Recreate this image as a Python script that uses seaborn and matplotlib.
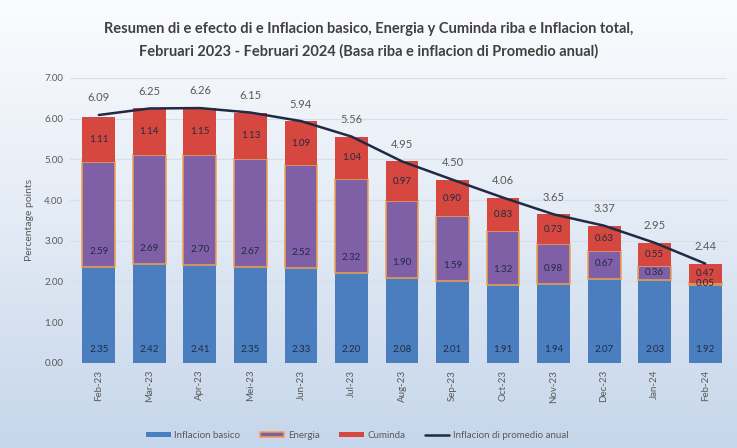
import numpy as np
import pandas as pd
import matplotlib.pyplot as plt
import seaborn as sns
from matplotlib.patches import Patch
from matplotlib.lines import Line2D
from matplotlib.colors import LinearSegmentedColormap

months = ["Feb-23", "Mar-23", "Apr-23", "Mei-23", "Jun-23", "Jul-23", "Aug-23",
          "Sep-23", "Oct-23", "Nov-23", "Dec-23", "Jan-24", "Feb-24"]
basico = [2.35, 2.42, 2.41, 2.35, 2.33, 2.20, 2.08, 2.01, 1.91, 1.94, 2.07, 2.03, 1.92]
energia = [2.59, 2.69, 2.70, 2.67, 2.52, 2.32, 1.90, 1.59, 1.32, 0.98, 0.67, 0.36, 0.05]
cuminda = [1.11, 1.14, 1.15, 1.13, 1.09, 1.04, 0.97, 0.90, 0.83, 0.73, 0.63, 0.55, 0.47]
total = [6.09, 6.25, 6.26, 6.15, 5.94, 5.56, 4.95, 4.50, 4.06, 3.65, 3.37, 2.95, 2.44]

sns.set_style("white")
plt.rcParams["font.family"] = ["Lato", "DejaVu Sans"]

c_bas = "#4a7ebf"
c_ene = "#7f5fa6"
c_ene_edge = "#f2a14a"
c_cum = "#d6483f"
c_line = "#1f2b45"
c_txt = "#1f2b45"
c_gray = "#595959"

df = pd.DataFrame({"month": months, "basico": basico, "energia": energia,
                   "cuminda": cuminda, "total": total})
bottom_ene = df["basico"].values
bottom_cum = (df["basico"] + df["energia"]).values

fig = plt.figure(figsize=(7.37, 4.48), dpi=100)

# background gradient (white at top to light blue at the bottom)
bg = fig.add_axes([0, 0, 1, 1], zorder=-10)
grad = np.linspace(0, 1, 256).reshape(-1, 1)
cmap = LinearSegmentedColormap.from_list("bg", ["#fbfcfe", "#e3ebf5", "#c6d6eb"])
bg.imshow(grad, aspect="auto", cmap=cmap, extent=[0, 1, 0, 1])
bg.axis("off")

ax = fig.add_axes([0.095, 0.19, 0.892, 0.636])
ax.patch.set_alpha(0)

w = 0.65
sns.barplot(data=df, x="month", y="basico", color=c_bas, saturation=1, width=w,
            ax=ax, zorder=2, linewidth=0)
sns.barplot(data=df, x="month", y="energia", color=c_ene, saturation=1, width=w,
            ax=ax, bottom=bottom_ene, edgecolor=c_ene_edge, linewidth=1.1, zorder=2)
sns.barplot(data=df, x="month", y="cuminda", color=c_cum, saturation=1, width=w,
            ax=ax, bottom=bottom_cum, linewidth=0, zorder=2)
sns.lineplot(x=np.arange(len(months)), y=total, ax=ax, color=c_line, linewidth=1.8,
             zorder=4)

for i in range(len(months)):
    ax.text(i, 0.33, f"{basico[i]:.2f}", ha="center", va="center", fontsize=7,
            color=c_txt, zorder=5)
    ax.text(i, bottom_ene[i] + 0.38 if energia[i] > 0.5 else bottom_ene[i] + energia[i] / 2,
            f"{energia[i]:.2f}", ha="center", va="center", fontsize=7,
            color=c_txt, zorder=5)
    ax.text(i, bottom_cum[i] + cuminda[i] / 2, f"{cuminda[i]:.2f}", ha="center",
            va="center", fontsize=7, color=c_txt, zorder=5)
    ax.text(i, total[i] + 0.42, f"{total[i]:.2f}", ha="center", va="center",
            fontsize=8, color=c_gray, zorder=5)

ax.set_ylim(0, 7)
ax.set_xlim(-0.57, 12.44)
ax.set_yticks(np.arange(0, 8, 1))
ax.set_yticklabels([f"{v:.2f}" for v in np.arange(0, 8, 1)], fontsize=7, color=c_gray)
ax.set_xticks(range(len(months)))
ax.set_xticklabels(months, rotation=90, fontsize=7, color=c_gray)
ax.tick_params(axis="both", length=0, pad=5)
ax.set_xlabel("")
ax.set_ylabel("Percentage points", fontsize=7.5, color=c_gray, labelpad=7)
ax.yaxis.grid(True, color="#d8dfe9", linewidth=0.9, zorder=0)
ax.set_axisbelow(True)
for s in ax.spines.values():
    s.set_visible(False)

fig.text(0.5, 0.935, "Resumen di e efecto di e Inflacion basico, Energia y Cuminda riba e Inflacion total,",
         ha="center", va="center", fontsize=10.5, fontweight="bold", color="#404040")
fig.text(0.5, 0.885, "Februari 2023 - Februari 2024 (Basa riba e inflacion di Promedio anual)",
         ha="center", va="center", fontsize=10.5, fontweight="bold", color="#404040")

handles = [Patch(facecolor=c_bas, edgecolor="none"),
           Patch(facecolor=c_ene, edgecolor=c_ene_edge, linewidth=1.1),
           Patch(facecolor=c_cum, edgecolor="none"),
           Line2D([0], [0], color=c_line, linewidth=1.8)]
labels = ["Inflacion basico", "Energia", "Cuminda", "Inflacion di promedio anual"]
fig.legend(handles, labels, loc="center", bbox_to_anchor=(0.485, 0.028), ncol=4,
           frameon=False, fontsize=7, labelcolor=c_gray, handlelength=2.5,
           handleheight=0.5, handletextpad=0.4, columnspacing=2.0)

fig.savefig("out.png", dpi=100)
